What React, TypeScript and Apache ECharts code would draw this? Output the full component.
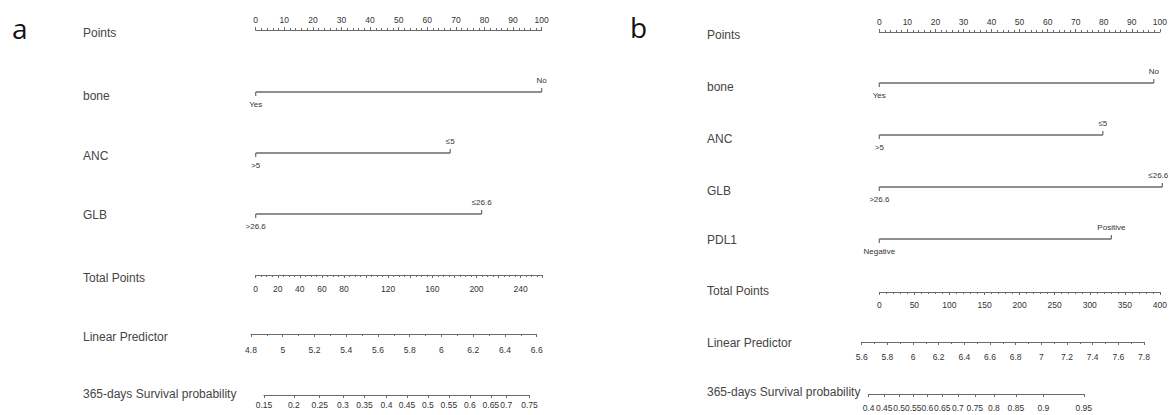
import React, { useEffect, useRef } from "react";
import * as echarts from "echarts";

// ---------------- data: panel a ----------------
const aRowLabels = ["Points", "bone", "ANC", "GLB", "Total Points", "Linear Predictor", "365-days Survival probability"];
const aBoneLevels = ["Yes", "No"];
const aBonePoints = [0, 100];
const aAncLevels = [">5", "≤5"];
const aAncPoints = [0, 68];
const aGlbLevels = [">26.6", "≤26.6"];
const aGlbPoints = [0, 79];
const aPointsRange = [0, 100];
const aTotalRange = [0, 260];
const aTotalLabels = [0, 20, 40, 60, 80, 120, 160, 200, 240];
const aLpRange = [4.8, 6.6];
const aSurvProb = [0.15, 0.2, 0.25, 0.3, 0.35, 0.4, 0.45, 0.5, 0.55, 0.6, 0.65, 0.7, 0.75];
const aSurvAtTotal = [7.5, 34.5, 58, 79, 98.5, 118.5, 137, 156, 175, 194, 213, 227, 248];

// ---------------- data: panel b ----------------
const bRowLabels = ["Points", "bone", "ANC", "GLB", "PDL1", "Total Points", "Linear Predictor", "365-days Survival probability"];
const bBoneLevels = ["Yes", "No"];
const bBonePoints = [0, 97];
const bAncLevels = [">5", "≤5"];
const bAncPoints = [0, 79];
const bGlbLevels = [">26.6", "≤26.6"];
const bGlbPoints = [0, 100];
const bPdl1Levels = ["Negative", "Positive"];
const bPdl1Points = [0, 82];
const bPointsRange = [0, 100];
const bTotalRange = [0, 400];
const bTotalLabels = [0, 50, 100, 150, 200, 250, 300, 350, 400];
const bLpRange = [5.6, 7.8];
const bSurvProb = [0.4, 0.45, 0.5, 0.55, 0.6, 0.65, 0.7, 0.75, 0.8, 0.85, 0.9, 0.95];
const bSurvAtTotal = [-15, 7, 28, 48, 68, 89, 111, 135, 162, 193, 232, 289];

// ---------------- styles / layout ----------------
const TEXT = "#454545";
const TICK_TEXT = "#333333";
const LINE = "#6a6a6a";
const ROW_FONT = '12px "Liberation Sans", Arial, sans-serif';
const TICK_FONT = '"Liberation Sans Narrow", "Liberation Sans", Arial, sans-serif';
const LETTER_FONT = '28px "Open Sans", "Noto Sans", Arial, sans-serif';

const layoutA = {
  letter: "a", letterX: 12, letterY: 28, labelX: 83,
  ptsL: 255.7, ptsR: 541.7, tpL: 255.7, tpR: 542.7, lpL: 251, lpR: 536.7,
  rowY: [30, 92, 153, 214, 275, 334, 395],
  labelY: [33, 96, 156, 215, 278, 337, 394],
  margins: { points: 6, total: 9, lp: 11, surv: 5 },
};
const layoutB = {
  letter: "b", letterX: 630, letterY: 27, labelX: 707,
  ptsL: 879.3, ptsR: 1162.3, tpL: 879.3, tpR: 1162.3, lpL: 861.7, lpR: 1144,
  rowY: [32, 83, 135, 187, 239, 292, 342, 394],
  labelY: [35, 87, 139, 191, 240, 291, 343, 392],
  margins: { points: 6, total: 8, lp: 10, surv: 9 },
};

function buildOption() {
  const grid: any[] = [];
  const xAxis: any[] = [];
  const yAxis: any[] = [];
  const series: any[] = [];
  const graphic: any[] = [];

  const addGrid = (left: number, right: number, top: number, height: number) => {
    grid.push({ left, top, width: right - left, height });
    const gi = grid.length - 1;
    yAxis.push({ gridIndex: gi, type: "value", min: -1, max: 1, show: false });
    return gi;
  };

  const tickLabel = (margin: number, extra: any = {}) => ({
    show: true,
    margin,
    fontSize: 8.5,
    fontFamily: TICK_FONT,
    color: TICK_TEXT,
    ...extra,
  });

  const axisRow = (
    left: number, right: number, y: number, pos: "top" | "bottom",
    min: number, max: number, cfg: any
  ) => {
    const gi = addGrid(left, right, pos === "top" ? y : y - 10, 10);
    xAxis.push({
      gridIndex: gi,
      type: "value",
      position: pos,
      min,
      max,
      interval: cfg.interval,
      axisLine: { show: true, onZero: false, lineStyle: { color: LINE, width: 1 } },
      splitLine: { show: false },
      axisTick: { show: true, inside: false, length: 3, lineStyle: { color: LINE, width: 1 }, ...(cfg.tick || {}) },
      minorTick: cfg.minorSplit
        ? { show: true, splitNumber: cfg.minorSplit, length: 2, lineStyle: { color: LINE, width: 1 } }
        : { show: false },
      axisLabel: tickLabel(cfg.margin, cfg.label || {}),
    });
  };

  const varRow = (
    left: number, right: number, y: number, levels: string[], pts: number[], range: number[]
  ) => {
    const gi = addGrid(left, right, y - 5, 10);
    xAxis.push({ gridIndex: gi, type: "value", min: range[0], max: range[1], show: false });
    series.push({
      type: "line",
      xAxisIndex: gi,
      yAxisIndex: gi,
      silent: true,
      clip: false,
      symbol: "rect",
      symbolSize: [1.2, 4],
      lineStyle: { color: LINE, width: 1.3 },
      itemStyle: { color: LINE },
      label: { show: true, fontSize: 8, fontFamily: TICK_FONT, color: TICK_TEXT, distance: 4 },
      data: pts.map((p, i) => {
        const atRightEdge = p >= range[1] && levels[i].length > 3;
        return {
          value: [p, 0],
          symbolOffset: [0, i === 0 ? 2 : -2],
          label: {
            position: i === 0 ? "bottom" : "top",
            formatter: levels[i],
            offset: atRightEdge ? [-4, 0] : [0, 0],
          },
        };
      }),
    });
  };

  const panel = (
    L: any, rowLabels: string[], vars: { levels: string[]; pts: number[] }[],
    ptsRange: number[], totalRange: number[], totalLabels: number[], totalInterval: number, totalMinor: number,
    lpRange: number[], survProb: number[], survAt: number[]
  ) => {
    graphic.push({
      type: "text", x: L.letterX, y: L.letterY, silent: true,
      style: { text: L.letter, font: LETTER_FONT, fill: "#111", verticalAlign: "middle" },
    });
    rowLabels.forEach((t, i) => {
      graphic.push({
        type: "text", x: L.labelX, y: L.labelY[i], silent: true,
        style: { text: t, font: ROW_FONT, fill: TEXT, verticalAlign: "middle" },
      });
    });
    let r = 0;
    axisRow(L.ptsL, L.ptsR, L.rowY[r++], "top", ptsRange[0], ptsRange[1], {
      interval: 10, minorSplit: 5, margin: L.margins.points,
    });
    vars.forEach((v) => {
      varRow(L.ptsL, L.ptsR, L.rowY[r++], v.levels, v.pts, ptsRange);
    });
    axisRow(L.tpL, L.tpR, L.rowY[r++], "bottom", totalRange[0], totalRange[1], {
      interval: totalInterval, minorSplit: totalMinor, margin: L.margins.total,
      label: { formatter: (val: number) => (totalLabels.indexOf(val) >= 0 ? String(val) : "") },
    });
    axisRow(L.lpL, L.lpR, L.rowY[r++], "bottom", lpRange[0], lpRange[1], {
      interval: 0.2, minorSplit: 2, margin: L.margins.lp,
    });
    const tpScale = (L.tpR - L.tpL) / (totalRange[1] - totalRange[0]);
    const sMin = survAt[0];
    const sMax = survAt[survAt.length - 1];
    const sLeft = L.tpL + (sMin - totalRange[0]) * tpScale;
    const sRight = L.tpL + (sMax - totalRange[0]) * tpScale;
    axisRow(sLeft, sRight, L.rowY[r++], "bottom", sMin, sMax, {
      margin: L.margins.surv,
      tick: { customValues: survAt },
      label: {
        customValues: survAt,
        formatter: (val: number) => {
          const i = survAt.indexOf(val);
          return i >= 0 ? String(survProb[i]) : "";
        },
      },
    });
  };

  panel(
    layoutA, aRowLabels,
    [
      { levels: aBoneLevels, pts: aBonePoints },
      { levels: aAncLevels, pts: aAncPoints },
      { levels: aGlbLevels, pts: aGlbPoints },
    ],
    aPointsRange, aTotalRange, aTotalLabels, 20, 4, aLpRange, aSurvProb, aSurvAtTotal
  );
  panel(
    layoutB, bRowLabels,
    [
      { levels: bBoneLevels, pts: bBonePoints },
      { levels: bAncLevels, pts: bAncPoints },
      { levels: bGlbLevels, pts: bGlbPoints },
      { levels: bPdl1Levels, pts: bPdl1Points },
    ],
    bPointsRange, bTotalRange, bTotalLabels, 50, 5, bLpRange, bSurvProb, bSurvAtTotal
  );

  return {
    animation: false,
    backgroundColor: "#ffffff",
    grid,
    xAxis,
    yAxis,
    series,
    graphic,
  };
}

export default function App() {
  const ref = useRef<HTMLDivElement>(null);
  useEffect(() => {
    if (!ref.current) return;
    const chart = echarts.init(ref.current, null, { renderer: "svg" });
    chart.setOption(buildOption() as any);
    return () => chart.dispose();
  }, []);
  return (
    <div
      ref={ref}
      style={{ position: "absolute", left: 0, top: 0, width: 1170, height: 415, background: "#fff" }}
    />
  );
}
